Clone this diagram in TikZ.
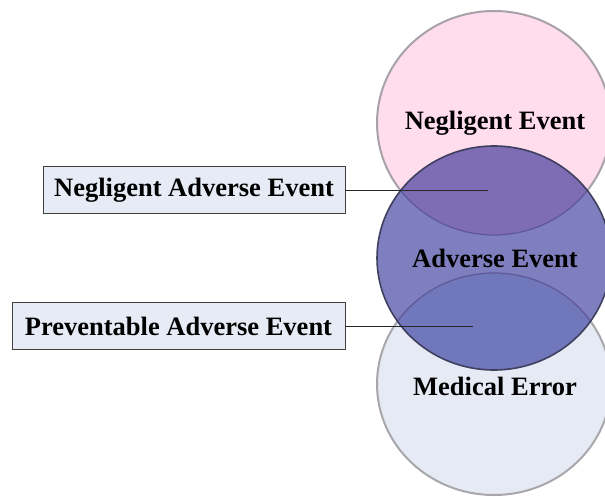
\documentclass[tikz,border=0pt]{standalone}
\usepackage{fontspec}
\setmainfont{Liberation Serif}
\definecolor{negfill}{HTML}{FFDDEC}
\definecolor{negline}{HTML}{A8A2A8}
\definecolor{advfill}{HTML}{7F7FBF}
\definecolor{advline}{HTML}{3F3F60}
\definecolor{medfill}{HTML}{E6EAF4}
\definecolor{medline}{HTML}{A8A8AC}
\definecolor{negadv}{HTML}{7E6CB4}
\definecolor{advmed}{HTML}{7077BA}
\definecolor{inner}{HTML}{5E5896}
\definecolor{boxfill}{HTML}{E6EBF5}
\definecolor{boxline}{HTML}{404040}
\begin{document}
\begin{tikzpicture}[x=1pt,y=-1pt,
  lbl/.style={font=\bfseries\fontsize{26.5}{31}\selectfont, text=black},
  tagbox/.style={draw=boxline, fill=boxfill, line width=1pt, inner sep=0pt,
    minimum height=47pt, font=\bfseries\fontsize{26.5}{31}\selectfont},
  leader/.style={draw=black!85, line width=0.9pt},
]
\useasboundingbox (0,0) rectangle (605,497);
\def\negE{(494,123) ellipse [x radius=117pt, y radius=112pt]}
\def\advE{(494,258) ellipse [x radius=117pt, y radius=112pt]}
\def\medE{(494,384) ellipse [x radius=117pt, y radius=111pt]}
\begin{scope}
  \clip (0,0) rectangle (605,497);
  % base fills
  \fill[negfill] \negE;
  \fill[medfill] \medE;
  \draw[negline, line width=2pt] \negE;
  \draw[medline, line width=2pt] \medE;
  \fill[advfill] \advE;
  % overlaps
  \begin{scope}
    \clip \advE;
    \fill[negadv] \negE;
    \fill[advmed] \medE;
    \draw[inner, line width=1.2pt] \negE;
    \draw[inner, line width=1.2pt] \medE;
  \end{scope}
  \draw[advline, line width=1.6pt] \advE;
\end{scope}

% circle captions
\node[lbl] (neg) at (495,123) {Negligent Event};
\node[lbl] (adv) at (495,258) {Adverse Event};
\node[lbl] (med) at (495,386) {Medical Error};

% side labels with leaders
\node[tagbox, minimum width=302pt] (nae) at (194,190.5) {Negligent Adverse Event};
\node[tagbox, minimum width=333pt] (pae) at (178.5,326) {Preventable Adverse Event};
\coordinate (p1) at (488,190.5);
\coordinate (p2) at (473,326);
\draw[leader] (nae.east) -- (p1);
\draw[leader] (pae.east) -- (p2);
\end{tikzpicture}
\end{document}
